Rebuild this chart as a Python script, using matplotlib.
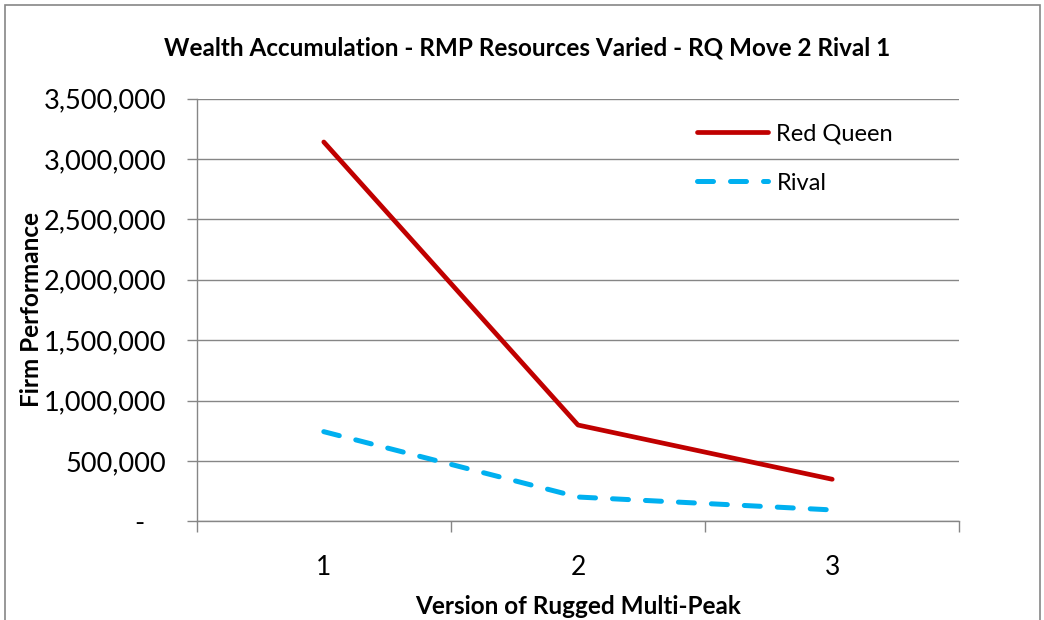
import matplotlib
matplotlib.use("Agg")
from matplotlib import pyplot as plt
from matplotlib.patches import Rectangle
from matplotlib.ticker import FuncFormatter, FixedLocator

# data
versions = [1, 2, 3]
red_queen = [3140000, 797000, 348000]
rival = [742000, 201000, 94000]

plt.rcParams['font.family'] = ['Lato', 'DejaVu Sans']

fig = plt.figure(figsize=(10.44, 6.2), dpi=100)
ax = fig.add_axes([196.7/1044, 1-521.3/620, (959.3-196.7)/1044, (521.3-98.5)/620])

ax.plot(versions, red_queen, color='#C00000', lw=3.4, solid_capstyle='round',
        label='Red Queen')
ax.plot(versions, rival, color='#00B0F0', lw=3.6, dash_capstyle='round',
        dashes=(3.2, 3.4), label='Rival')

ax.set_xlim(0.5, 3.5)
ax.set_ylim(0, 3500000)
ax.set_yticks(range(0, 3500001, 500000))

def yfmt(v, pos):
    if v == 0:
        return '-   '
    return '{:,.0f}'.format(v)

ax.yaxis.set_major_formatter(FuncFormatter(yfmt))
ax.set_xticks(versions)
ax.set_xticklabels([str(v) for v in versions])
ax.xaxis.set_minor_locator(FixedLocator([0.5, 1.5, 2.5, 3.5]))
ax.tick_params(axis='x', which='major', length=0, pad=24, labelsize=19)
ax.tick_params(axis='x', which='minor', length=8, color='#868686', width=1)
ax.tick_params(axis='y', length=7, color='#868686', width=1, labelsize=19.5, pad=15)

ax.grid(axis='y', color='#868686', lw=1)
ax.set_axisbelow(True)
for side in ['top', 'right']:
    ax.spines[side].set_visible(False)
for side in ['left', 'bottom']:
    ax.spines[side].set_color('#868686')
    ax.spines[side].set_linewidth(1)

ax.set_xlabel('Version of Rugged Multi-Peak', fontsize=17.5, fontweight='bold', labelpad=11)
ax.set_ylabel('Firm Performance', fontsize=17.5, fontweight='bold', labelpad=0.5)
fig.text(0.505, 1-48/620, 'Wealth Accumulation - RMP Resources Varied - RQ Move 2 Rival 1',
         ha='center', va='center', fontsize=17.5, fontweight='bold')

leg = ax.legend(loc='upper left', bbox_to_anchor=(0.641, 0.969), frameon=False,
                fontsize=17, handlelength=3.0, handletextpad=0.35,
                labelspacing=1.2, borderpad=0)

fig.patches.append(Rectangle((5/1044, -0.1), (1040-5)/1044, 1.1-5/620,
                             transform=fig.transFigure, fill=False,
                             edgecolor='#868686', lw=1.2))

fig.savefig("out.png", dpi=100)
